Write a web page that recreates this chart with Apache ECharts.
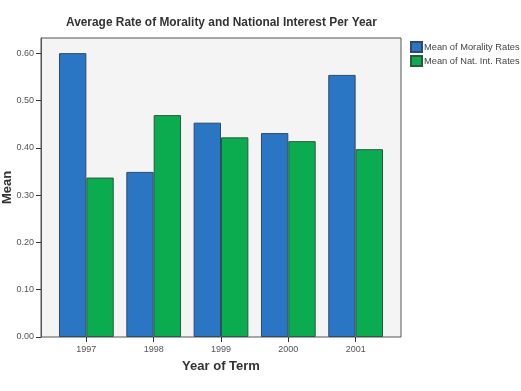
<!DOCTYPE html>
<html>
<head>
<meta charset="utf-8">
<script src="https://cdn.jsdelivr.net/npm/echarts@6/dist/echarts.min.js"></script>
<style>
  html, body { margin: 0; padding: 0; background: #fff; }
  #main { width: 521px; height: 391px; }
</style>
</head>
<body>
<div id="main"></div>
<script>
const years = ['1997', '1998', '1999', '2000', '2001'];
const moralityRates = [0.600, 0.349, 0.453, 0.431, 0.554];
const natIntRates = [0.337, 0.469, 0.422, 0.414, 0.397];
const yTicks = [0, 0.1, 0.2, 0.3, 0.4, 0.5, 0.6];

const chart = echarts.init(document.getElementById('main'));

const yMax = 0.632;
const tickLabel = function (v) {
  return yTicks.some(t => Math.abs(t - v) < 1e-6) ? v.toFixed(2) : '';
};

const option = {
  animation: false,
  textStyle: { fontFamily: 'Liberation Sans, Arial, sans-serif' },
  title: {
    text: 'Average Rate of Morality and National Interest Per Year',
    left: 61,
    top: 12,
    textStyle: { fontSize: 11.9, fontWeight: 'bold', color: '#333' }
  },
  legend: {
    orient: 'vertical',
    left: 410,
    top: 41,
    padding: 0,
    icon: 'rect',
    itemWidth: 11,
    itemHeight: 10,
    itemGap: 2,
    textStyle: { fontSize: 9.3, color: '#444', padding: [0, 0, 0, -3] },
    data: ['Mean of Morality Rates', 'Mean of Nat. Int. Rates']
  },
  grid: [
    {
      // frame
      left: 41, top: 38, width: 360, height: 299,
      outerBoundsMode: 'none', containLabel: false,
      show: true, backgroundColor: '#f4f4f4', borderColor: '#555', borderWidth: 1
    },
    {
      // category area, inset inside the frame
      left: 52.7, top: 38, width: 336.6, height: 299,
      outerBoundsMode: 'none', containLabel: false
    }
  ],
  xAxis: [
    { gridIndex: 0, type: 'value', show: false },
    {
      gridIndex: 1,
      type: 'category',
      data: years,
      name: 'Year of Term',
      nameLocation: 'middle',
      nameGap: 23,
      nameTextStyle: { fontSize: 13, fontWeight: 'bold', color: '#333' },
      axisLine: { show: false },
      axisTick: { show: true, alignWithLabel: true, length: 5, lineStyle: { color: '#333' } },
      axisLabel: { fontSize: 9, color: '#555', margin: 8 }
    }
  ],
  yAxis: [
    {
      gridIndex: 0,
      type: 'value',
      min: 0,
      max: yMax,
      interval: 0.1,
      name: 'Mean',
      nameLocation: 'middle',
      nameGap: 27,
      nameMoveOverlap: false,
      nameTextStyle: { fontSize: 13, fontWeight: 'bold', color: '#333' },
      splitLine: { show: false },
      axisLine: { show: true, lineStyle: { color: '#555' } },
      axisTick: { show: true, length: 5, lineStyle: { color: '#333' } },
      axisLabel: { fontSize: 9, color: '#555', margin: 7, showMaxLabel: false, formatter: tickLabel }
    },
    { gridIndex: 1, type: 'value', min: 0, max: yMax, show: false, splitLine: { show: false } }
  ],
  series: [
    {
      name: 'Mean of Morality Rates',
      type: 'bar',
      xAxisIndex: 1,
      yAxisIndex: 1,
      data: moralityRates,
      barGap: '0%',
      barCategoryGap: '18.7%',
      itemStyle: { color: '#2a76c4', borderColor: '#2d4a6a', borderWidth: 1 }
    },
    {
      name: 'Mean of Nat. Int. Rates',
      type: 'bar',
      xAxisIndex: 1,
      yAxisIndex: 1,
      data: natIntRates,
      itemStyle: { color: '#0bac50', borderColor: '#2a5a3e', borderWidth: 1 }
    }
  ]
};

chart.setOption(option);
</script>
</body>
</html>
